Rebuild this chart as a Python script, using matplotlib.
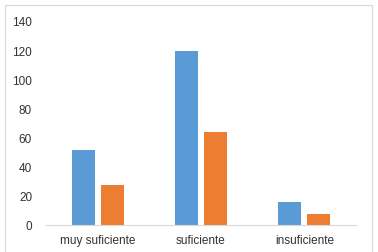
import numpy as np
import matplotlib.pyplot as plt
from matplotlib.patches import Rectangle

categories = ['muy suficiente', 'suficiente', 'insuficiente']
serie1 = [52, 120, 16]
serie2 = [28, 64, 8]

plt.rcParams['font.family'] = ['Liberation Sans', 'DejaVu Sans']

fig = plt.figure(figsize=(3.78, 2.52), dpi=100)
W, H = 378, 252
ax = fig.add_axes([46 / W, 1 - 225.3 / H, 310 / W, (225.3 - 22) / H])

x = np.arange(len(categories))
w = 0.225
ax.bar(x - 0.14, serie1, w, color='#5B9BD5')
ax.bar(x + 0.14, serie2, w, color='#ED7D31')

ax.set_xlim(-0.5, 2.5)
ax.set_ylim(0, 140)
ax.set_yticks(range(0, 141, 20))
ax.set_xticks(x)
ax.set_xticklabels(categories)
ax.tick_params(length=0, labelsize=8.5, colors='#333333')
ax.tick_params(axis='y', pad=10)
ax.tick_params(axis='x', pad=7)
for s in ['top', 'right', 'left']:
    ax.spines[s].set_visible(False)
ax.spines['bottom'].set_color('#D9D9D9')
ax.spines['bottom'].set_linewidth(0.8)

fig.patches.append(Rectangle((5 / W, -0.1), 367 / W, 1 - 5 / H + 0.1,
                             transform=fig.transFigure, fill=False,
                             edgecolor='#D9D9D9', linewidth=0.8))

fig.savefig('out.png', dpi=100)
